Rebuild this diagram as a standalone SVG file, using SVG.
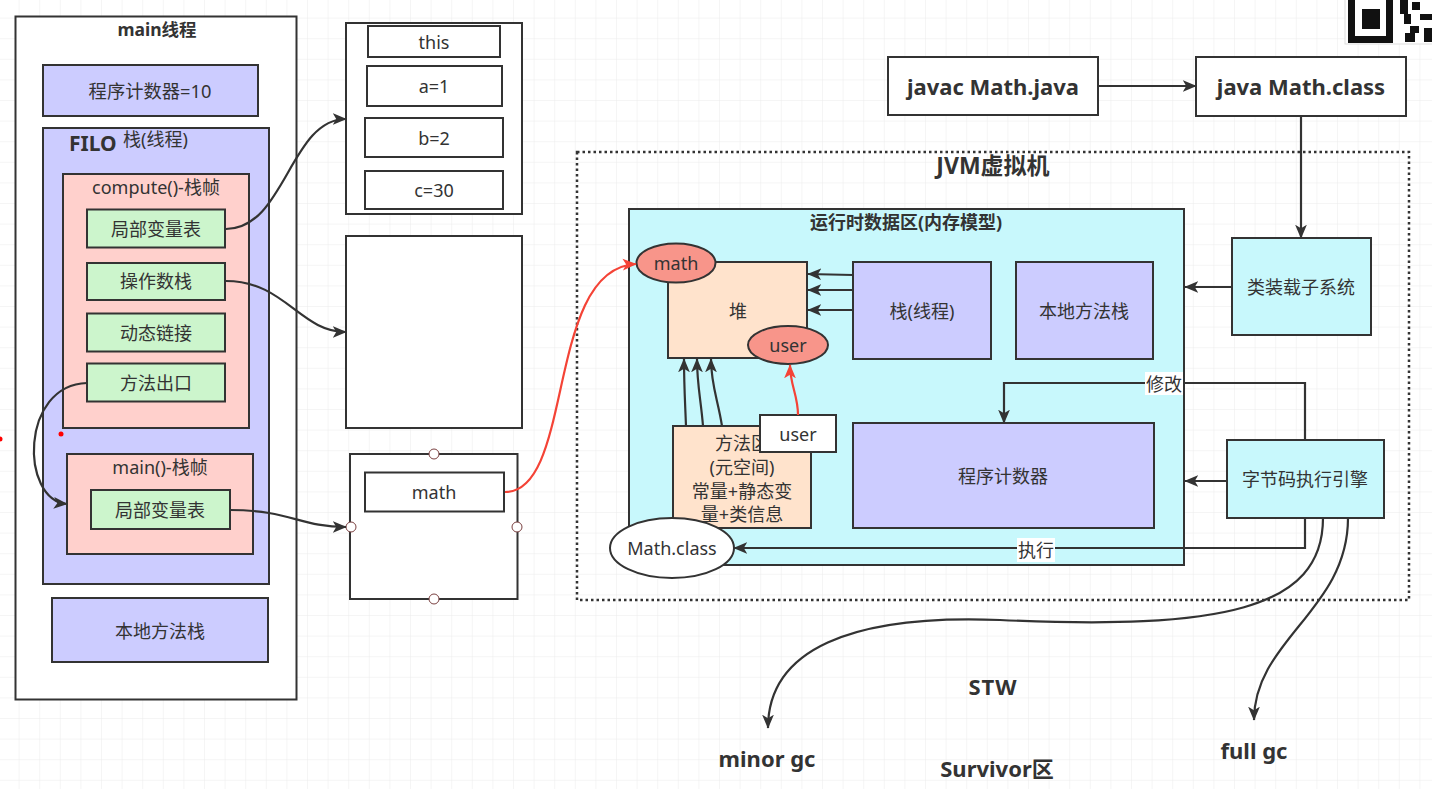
<svg xmlns="http://www.w3.org/2000/svg" width="1432" height="789" viewBox="0 0 1432 789">
<defs>
<pattern id="grid" width="20.6" height="20.6" patternUnits="userSpaceOnUse" x="-2" y="-3">
<path d="M20.6,0 L0,0 L0,20.6" fill="none" stroke="#ebebeb" stroke-width="1"/>
</pattern>
<marker id="ah" viewBox="0 0 10 10" refX="9.5" refY="5" markerWidth="14" markerHeight="14" markerUnits="userSpaceOnUse" orient="auto">
<path d="M0,0.8 L10,5 L0,9.2 L2.5,5 z" fill="#333"/>
</marker>
<marker id="ahr" viewBox="0 0 10 10" refX="9.5" refY="5" markerWidth="14" markerHeight="14" markerUnits="userSpaceOnUse" orient="auto">
<path d="M0,0.8 L10,5 L0,9.2 L2.5,5 z" fill="#f44336"/>
</marker>
</defs>
<style>
text{font-family:"Noto Sans","Noto Sans CJK SC",sans-serif;fill:#333;}
.t{font-size:18px;text-anchor:middle;dominant-baseline:central;}
.b{font-weight:bold;}
.big{font-size:22px;}
.box{stroke:#333;stroke-width:2;}
.w{fill:#fff;}
.blue{fill:#ccccff;}
.pink{fill:#ffd0cc;}
.green{fill:#ccf5cc;}
.cyan{fill:#c8f8fc;}
.peach{fill:#ffe3cc;}
.salmon{fill:#f8958a;}
.c{fill:none;stroke:#333;stroke-width:2.2;}
.r{fill:none;stroke:#f44336;stroke-width:2.2;}
.pt{fill:#fff;stroke:#7a4040;stroke-width:1;}
</style>
<rect width="1432" height="789" fill="#fff"/>
<rect width="1432" height="789" fill="url(#grid)"/>

<!-- QR fragment -->
<g id="qr">
<rect x="1345" y="-2" width="90" height="46" fill="#fff" stroke="#ddd"/>
<rect x="1348" y="-2" width="45" height="45" fill="#111"/>
<rect x="1355" y="-2" width="31" height="38" fill="#fff"/>
<rect x="1362" y="9" width="18" height="20" fill="#111"/>
<rect x="1400" y="0" width="8" height="14" fill="#111"/>
<rect x="1412" y="2" width="8" height="8" fill="#111"/>
<rect x="1404" y="14" width="7" height="10" fill="#111"/>
<rect x="1420" y="14" width="12" height="6" fill="#111"/>
<rect x="1410" y="26" width="9" height="7" fill="#111"/>
<rect x="1405" y="33" width="10" height="9" fill="#111"/>
<rect x="1424" y="28" width="8" height="14" fill="#111"/>
</g>

<!-- main thread -->
<g id="main-thread">
<rect class="box w" x="15.5" y="16.5" width="281" height="683"/>
<text class="t b" x="157" y="29" style="font-size:17.5px">main线程</text>
</g>
<g id="pc10">
<rect class="box blue" x="43" y="65" width="215" height="51"/>
<text class="t" x="150" y="90" style="font-size:18.3px">程序计数器=10</text>
</g>
<g id="stack-thread">
<rect class="box blue" x="43" y="128" width="226" height="456"/>
<text class="b" x="69" y="151" style="font-size:21px">FILO</text>
<text x="123" y="146" style="font-size:18px">栈(线程)</text>
</g>
<g id="compute-frame">
<rect class="box pink" x="63" y="174" width="186" height="254"/>
<text class="t" x="156" y="187">compute()-栈帧</text>
</g>
<g id="local-vars">
<rect class="box green" x="87" y="209.5" width="138" height="38"/>
<text class="t" x="156" y="229">局部变量表</text>
</g>
<g id="operand-stack">
<rect class="box green" x="87" y="263" width="138" height="37"/>
<text class="t" x="156" y="281">操作数栈</text>
</g>
<g id="dynamic-link">
<rect class="box green" x="87" y="313.5" width="138" height="38"/>
<text class="t" x="156" y="333">动态链接</text>
</g>
<g id="method-exit">
<rect class="box green" x="87" y="363.5" width="138" height="38"/>
<text class="t" x="156" y="383">方法出口</text>
</g>
<g id="main-frame">
<rect class="box pink" x="67" y="454" width="186" height="100"/>
<text class="t" x="160" y="467">main()-栈帧</text>
</g>
<g id="main-local-vars">
<rect class="box green" x="91" y="490" width="139" height="39"/>
<text class="t" x="160" y="510">局部变量表</text>
</g>
<g id="native-stack-left">
<rect class="box blue" x="52" y="598" width="216" height="64"/>
<text class="t" x="160" y="631">本地方法栈</text>
</g>
<circle cx="61" cy="434" r="2.5" fill="#f00"/>
<circle cx="0" cy="439" r="2.5" fill="#f00"/>

<!-- local var table box -->
<g id="locals-box">
<rect class="box w" x="346" y="23" width="176" height="191"/>
</g>
<g id="this">
<rect class="box w" x="368" y="26" width="132" height="31"/>
<text class="t" x="434" y="42">this</text>
</g>
<g id="a1">
<rect class="box w" x="367" y="66" width="135" height="40"/>
<text class="t" x="434" y="86">a=1</text>
</g>
<g id="b2">
<rect class="box w" x="365" y="118" width="138" height="39"/>
<text class="t" x="434" y="138">b=2</text>
</g>
<g id="c30">
<rect class="box w" x="365" y="171" width="138" height="38"/>
<text class="t" x="434" y="190">c=30</text>
</g>
<g id="operand-box">
<rect class="box w" x="346" y="236" width="176" height="192"/>
</g>
<g id="main-locals-box">
<rect class="box w" x="350" y="454" width="167.5" height="145"/>
<circle class="pt" cx="434" cy="454" r="5"/>
<circle class="pt" cx="434" cy="599" r="5"/>
<circle class="pt" cx="351" cy="527" r="5"/>
<circle class="pt" cx="517" cy="527" r="5"/>
</g>
<g id="math-ref">
<rect class="box w" x="365" y="472.5" width="139" height="39"/>
<text class="t" x="434" y="492">math</text>
</g>

<!-- compile steps -->
<g id="javac">
<rect class="box w" x="888" y="57" width="210" height="58"/>
<text class="t b big" x="993" y="86">javac Math.java</text>
</g>
<g id="java">
<rect class="box w" x="1196" y="57" width="210" height="59"/>
<text class="t b big" x="1301" y="86">java Math.class</text>
</g>

<!-- JVM -->
<g id="jvm">
<rect x="577" y="152" width="832" height="448" fill="none" stroke="#333" stroke-width="2.5" stroke-dasharray="2.5 3"/>
<text class="t b" x="993" y="165" style="font-size:23px">JVM虚拟机</text>
</g>
<g id="runtime-area">
<rect class="box cyan" x="629" y="209" width="555" height="356"/>
<text class="t b" x="906" y="222" style="font-size:18px">运行时数据区(内存模型)</text>
</g>
<g id="heap">
<rect class="box peach" x="668" y="262" width="139" height="96"/>
<text class="t" x="738" y="311">堆</text>
</g>
<g id="math-obj">
<ellipse class="box salmon" cx="676" cy="263" rx="39.5" ry="19.5"/>
<text class="t" x="676" y="263">math</text>
</g>
<g id="user-obj">
<ellipse class="box salmon" cx="788" cy="345" rx="40" ry="19"/>
<text class="t" x="788" y="345">user</text>
</g>
<g id="jvm-stack">
<rect class="box blue" x="853" y="262" width="138" height="97"/>
<text class="t" x="922" y="311">栈(线程)</text>
</g>
<g id="jvm-native-stack">
<rect class="box blue" x="1016" y="262" width="137" height="97"/>
<text class="t" x="1084" y="311">本地方法栈</text>
</g>
<g id="class-loader">
<rect class="box cyan" x="1232" y="238" width="139" height="97"/>
<text class="t" x="1301" y="287">类装载子系统</text>
</g>
<g id="method-area">
<rect class="box peach" x="673" y="426" width="138" height="102"/>
<text class="t" x="742" y="443">方法区</text>
<text class="t" x="742" y="467">(元空间)</text>
<text class="t" x="742" y="491">常量+静态变</text>
<text class="t" x="742" y="514">量+类信息</text>
</g>
<g id="user-ref">
<rect class="box w" x="760" y="415" width="76" height="37"/>
<text class="t" x="798" y="434">user</text>
</g>
<g id="pc">
<rect class="box blue" x="853" y="423" width="301" height="105"/>
<text class="t" x="1003" y="476">程序计数器</text>
</g>
<g id="engine">
<rect class="box cyan" x="1227" y="440" width="157" height="78"/>
<text class="t" x="1305" y="479">字节码执行引擎</text>
</g>
<g id="math-class">
<ellipse class="box w" cx="672" cy="548" rx="62" ry="30"/>
<text class="t" x="672" y="548">Math.class</text>
</g>

<!-- connectors -->
<g id="connectors">
<path class="c" d="M226,229 C285,229 290,119 346,119" marker-end="url(#ah)"/>
<path class="c" d="M226,281 C285,281 300,332 346,332" marker-end="url(#ah)"/>
<path class="c" d="M87,383 C20,385 20,500 67,504" marker-end="url(#ah)"/>
<path class="c" d="M230,510 C290,510 300,527 346,527" marker-end="url(#ah)"/>
<path class="r" d="M505,492 C575,492 545,268 636,264" marker-end="url(#ahr)"/>
<path class="r" d="M798,415 C798,395 790,385 790,365" marker-end="url(#ahr)"/>
<path class="c" d="M853,275 L808,274" marker-end="url(#ah)"/>
<path class="c" d="M853,290 L808,290" marker-end="url(#ah)"/>
<path class="c" d="M853,310 L808,310" marker-end="url(#ah)"/>
<path class="c" d="M686,426 C685,400 684,385 684,359" marker-end="url(#ah)"/>
<path class="c" d="M703,426 C701,400 697,385 697,359" marker-end="url(#ah)"/>
<path class="c" d="M722,426 C718,400 711,385 711,359" marker-end="url(#ah)"/>
<path class="c" d="M1098,86 L1196,86" marker-end="url(#ah)"/>
<path class="c" d="M1301,116 L1301,238" marker-end="url(#ah)"/>
<path class="c" d="M1232,287 L1185,287" marker-end="url(#ah)"/>
<path class="c" d="M1227,481 L1185,481" marker-end="url(#ah)"/>
<path class="c" d="M1305,440 L1305,383 L1004,383 L1004,423" marker-end="url(#ah)"/>
<path class="c" d="M1305,518 L1305,548 L734,548" marker-end="url(#ah)"/>
<path class="c" d="M1323,518 C1323,610 1220,630 1000,620 C850,614 768,650 768,728" marker-end="url(#ah)"/>
<path class="c" d="M1348,518 C1348,610 1254,640 1254,720" marker-end="url(#ah)"/>
<rect x="1145" y="372" width="38" height="23" fill="#fff"/>
<text class="t" x="1164" y="384">修改</text>
<rect x="1017" y="538" width="38" height="24" fill="#fff"/>
<text class="t" x="1036" y="550">执行</text>
</g>

<!-- free texts -->
<text class="t b big" x="993" y="686" style="letter-spacing:1px">STW</text>
<text class="t b big" x="767" y="758">minor gc</text>
<text class="t b big" x="997" y="768">Survivor区</text>
<text class="t b big" x="1254" y="750">full gc</text>
</svg>
